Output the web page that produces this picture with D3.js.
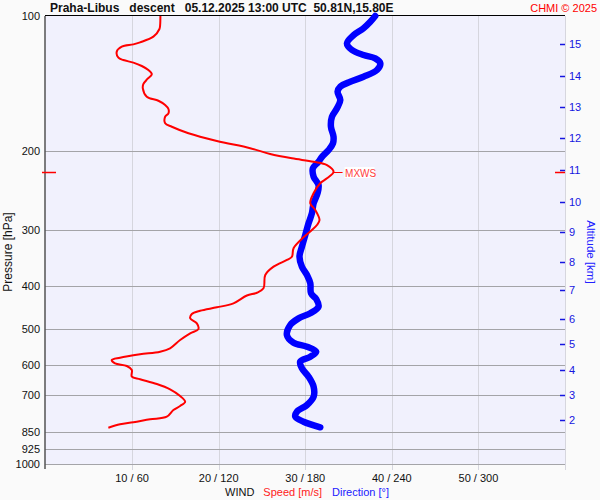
<!DOCTYPE html>
<html>
<head>
<meta charset="utf-8">
<script src="https://cdn.jsdelivr.net/npm/d3@7/dist/d3.min.js"></script>
<style>
  html, body { margin: 0; padding: 0; background: #fafafa; }
  svg { display: block; font-family: "Liberation Sans", Arial, sans-serif; }
</style>
</head>
<body>
<svg id="chart" width="600" height="500"></svg>
<script>
// ---- data ----
const titleText = "Praha-Libus   descent   05.12.2025 13:00 UTC  50.81N,15.80E";
const creditText = "CHMI \u00a9 2025";
const pressureTicks = [100, 200, 300, 400, 500, 600, 700, 850, 925, 1000];
const speedTicks = [10, 20, 30, 40, 50];
const directionTicks = [60, 120, 180, 240, 300];
const altitudeKm = [15, 14, 13, 12, 11, 10, 9, 8, 7, 6, 5, 4, 3, 2];
const altitudePressure = [115.7, 135.9, 159.9, 186.9, 221.0, 260.2, 304.0, 354.6, 408.2, 474.0, 540.5, 617.9, 700.2, 798.8];

// wind speed profile [m/s] vs pressure [hPa]
const speedPressure = [100, 104.7, 106.9, 111.2, 114.5, 115.7, 117.1, 120.1, 123.9, 125.4, 127.1, 129.3, 132.0, 134.9, 138.2, 141.8, 145.0, 151.4, 154.6, 158.0, 161.3, 164.9, 167.8, 173.6, 176.7, 182.7, 190.1, 197.3, 203.2, 207.8, 211.5, 215.1, 222.6, 230.3, 236.2, 248.7, 261.8, 271.0, 285.4, 292.8, 300.4, 311.9, 330.0, 344.6, 350.4, 362.7, 378.5, 405.4, 414.7, 420.7, 437.9, 447.0, 454.9, 462.7, 473.0, 485.3, 499.8, 510.9, 528.8, 551.8, 561.6, 569.1, 579.1, 586.1, 596.1, 604.3, 616.9, 638.4, 647.0, 662.8, 681.2, 705.0, 726.0, 742.2, 757.7, 784.1, 794.7, 807.1, 815.5, 829.9];
const speedValues = [13.27, 13.24, 13.16, 12.46, 10.92, 10.15, 8.81, 8.23, 8.42, 8.99, 10.15, 11.12, 11.88, 12.28, 11.77, 11.31, 11.24, 11.70, 13.04, 13.82, 14.20, 14.20, 13.82, 13.82, 14.59, 16.51, 19.79, 23.64, 25.95, 28.46, 30.96, 32.51, 33.27, 32.51, 31.73, 30.96, 30.58, 31.16, 31.65, 31.35, 30.77, 29.80, 28.65, 28.46, 27.88, 26.34, 25.38, 25.18, 24.42, 23.26, 21.71, 19.79, 17.86, 16.90, 16.71, 17.48, 17.66, 16.71, 15.55, 14.39, 13.24, 10.92, 8.61, 7.65, 8.03, 9.39, 9.97, 9.97, 10.92, 12.86, 14.39, 15.55, 16.13, 15.55, 14.77, 14.01, 12.08, 10.15, 8.61, 7.26];

// wind direction profile [deg] vs pressure [hPa]
const dirPressure = [100, 103.0, 106.5, 110.3, 115.1, 119.1, 122.2, 124.3, 127.5, 132.0, 136.6, 140.2, 143.8, 147.6, 154.0, 160.7, 167.8, 176.7, 186.0, 192.4, 199.1, 206.2, 211.5, 218.8, 228.4, 238.4, 248.7, 261.8, 275.7, 290.2, 308.3, 327.3, 344.6, 362.7, 378.5, 395.1, 415.9, 428.3, 445.6, 460.9, 473.0, 489.5, 515.4, 536.1, 547.3, 561.6, 576.1, 591.1, 611.5, 638.4, 672.2, 707.6, 738.4, 764.3, 784.1, 804.6, 828.1];
const dirValues = [228.5, 225.1, 220.4, 213.5, 208.9, 212.4, 220.4, 228.5, 232.0, 229.7, 220.4, 211.2, 204.3, 202.4, 204.3, 202.0, 198.5, 197.8, 199.6, 199.2, 196.2, 191.6, 189.2, 185.3, 185.8, 189.2, 188.5, 185.8, 184.6, 182.3, 180.0, 177.7, 176.0, 177.7, 181.2, 183.5, 184.0, 187.6, 189.2, 183.5, 175.4, 169.6, 167.3, 171.9, 181.2, 187.6, 183.5, 176.5, 177.7, 182.3, 185.8, 185.8, 181.2, 174.2, 173.1, 178.8, 190.4];

// ---- layout ----
const L = 45.5, R = 565, T = 16, B = 464;
const svg = d3.select("#chart");

const y = d3.scaleLog().domain([100, 1000]).range([T, B]);
const xs = d3.scaleLinear().domain([0, 60]).range([L, R]);
const xd = d3.scaleLinear().domain([0, 360]).range([L, R]);

svg.append("rect").attr("width", 600).attr("height", 500).attr("fill", "#fafafa");
svg.append("rect").attr("x", L).attr("y", T).attr("width", R - L).attr("height", B - T).attr("fill", "#f1f1fd");

// vertical grid
svg.append("g").selectAll("line").data(speedTicks).join("line")
  .attr("x1", d => Math.round(xs(d)) + 0.5).attr("x2", d => Math.round(xs(d)) + 0.5)
  .attr("y1", T).attr("y2", B + 6)
  .attr("stroke", "#d6d6de").attr("stroke-width", 1);

// right border
svg.append("line").attr("x1", R + 0.5).attr("x2", R + 0.5).attr("y1", T).attr("y2", B + 6)
  .attr("stroke", "#d6d6de");

// horizontal grid
svg.append("g").selectAll("line").data(pressureTicks.slice(1)).join("line")
  .attr("x1", L).attr("x2", R)
  .attr("y1", d => Math.round(y(d)) + 0.5).attr("y2", d => Math.round(y(d)) + 0.5)
  .attr("stroke", "#a4a4a8").attr("stroke-width", 1);

// pressure labels
svg.append("g").selectAll("text").data(pressureTicks).join("text")
  .attr("x", 40).attr("y", d => y(d) + 4)
  .attr("text-anchor", "end").attr("font-size", 11).attr("fill", "#111")
  .text(d => d);

// axis frame
svg.append("line").attr("x1", L - 0.5).attr("x2", L - 0.5).attr("y1", T).attr("y2", B + 5).attr("stroke", "#000");
svg.append("line").attr("x1", L - 0.5).attr("x2", R).attr("y1", T - 0.5).attr("y2", T - 0.5).attr("stroke", "#000");

// bottom labels
svg.append("g").selectAll("text").data(speedTicks).join("text")
  .attr("x", d => xs(d)).attr("y", 482)
  .attr("text-anchor", "middle").attr("font-size", 11).attr("fill", "#111")
  .text((d, i) => d + " / " + directionTicks[i]);

const leg = svg.append("text").attr("y", 495.5).attr("font-size", 11).attr("x", 225);
leg.append("tspan").attr("fill", "#111").text("WIND");
leg.append("tspan").attr("fill", "#ff2020").attr("dx", 9).text("Speed [m/s]");
leg.append("tspan").attr("fill", "#2020ff").attr("dx", 10).text("Direction [\u00b0]");

// axis titles
svg.append("text").attr("transform", `translate(12,252) rotate(-90)`)
  .attr("text-anchor", "middle").attr("font-size", 12).attr("fill", "#111").text("Pressure [hPa]");
svg.append("text").attr("transform", `translate(587,252) rotate(90)`)
  .attr("text-anchor", "middle").attr("font-size", 11.5).attr("fill", "#2020ff").text("Altitude [km]");

// altitude ticks
const altG = svg.append("g");
altG.selectAll("line").data(altitudeKm).join("line")
  .attr("x1", R - 5).attr("x2", R)
  .attr("y1", (d, i) => Math.round(y(altitudePressure[i])) + 0.5)
  .attr("y2", (d, i) => Math.round(y(altitudePressure[i])) + 0.5)
  .attr("stroke", "#1515e0").attr("stroke-width", 1.5);
altG.selectAll("text").data(altitudeKm).join("text")
  .attr("x", 569).attr("y", (d, i) => y(altitudePressure[i]) + 4)
  .attr("font-size", 11).attr("fill", "#1515e0").text(d => d);

// curves
const speedData = speedValues.map((v, i) => ({ v, p: speedPressure[i] }));
const dirData = dirValues.map((v, i) => ({ v, p: dirPressure[i] }));

svg.append("path").datum(dirData)
  .attr("d", d3.line().x(d => xd(d.v)).y(d => y(d.p)).curve(d3.curveCatmullRom))
  .attr("fill", "none").attr("stroke", "#0000ff").attr("stroke-width", 6.5)
  .attr("stroke-linejoin", "round").attr("stroke-linecap", "round");

svg.append("path").datum(speedData)
  .attr("d", d3.line().x(d => xs(d.v)).y(d => y(d.p)).curve(d3.curveCatmullRom))
  .attr("fill", "none").attr("stroke", "#ff0000").attr("stroke-width", 2)
  .attr("stroke-linejoin", "round");

// max wind marker
const mx = speedData.reduce((a, b) => (b.v > a.v ? b : a));
const my = Math.round(y(mx.p)) + 0.5;
svg.append("line").attr("x1", 42).attr("x2", 56).attr("y1", my).attr("y2", my).attr("stroke", "#ff0000").attr("stroke-width", 1.5);
svg.append("line").attr("x1", R - 10).attr("x2", R).attr("y1", my).attr("y2", my).attr("stroke", "#ff0000").attr("stroke-width", 1.5);
svg.append("line").attr("x1", xs(mx.v)).attr("x2", xs(mx.v) + 9).attr("y1", my).attr("y2", my).attr("stroke", "#ff0000").attr("stroke-width", 1);
svg.append("rect").attr("x", xs(mx.v) + 11).attr("y", my - 5.5).attr("width", 30).attr("height", 11).attr("fill", "#ffffff");
svg.append("text").attr("x", xs(mx.v) + 11.5).attr("y", my + 4).attr("font-size", 10).attr("fill", "#ff4040").text("MXWS");

// title
svg.append("text").attr("x", 50).attr("y", 12).attr("font-size", 12).attr("font-weight", "bold")
  .attr("fill", "#111").attr("xml:space", "preserve").style("white-space", "pre").text(titleText);
svg.append("text").attr("x", 597).attr("y", 12).attr("font-size", 11).attr("text-anchor", "end")
  .attr("fill", "#ff0000").text(creditText);
</script>
</body>
</html>
